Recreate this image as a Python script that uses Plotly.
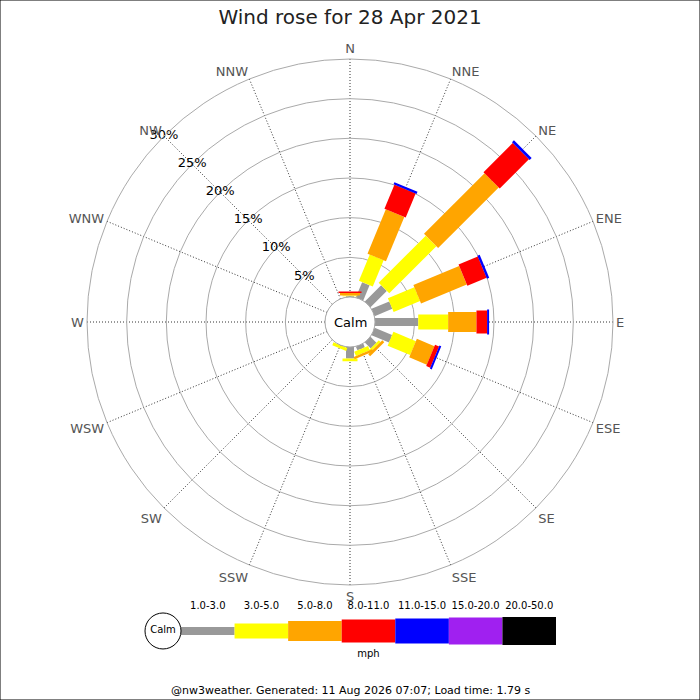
import plotly.graph_objects as go

# compass points, clockwise from north
directions = ["N", "NNE", "NE", "ENE", "E", "ESE", "SE", "SSE",
              "S", "SSW", "SW", "WSW", "W", "WNW", "NW", "NNW"]

# speed bins (mph) and the share of the day (%) in each, per direction
bins = ["1.0-3.0", "3.0-5.0", "5.0-8.0", "8.0-11.0", "11.0-15.0", "15.0-20.0", "20.0-50.0"]
pct_1_3 = [0.1, 2.07, 2.9, 2.41, 5.45, 2.38, 1.05, 0.5, 1.45, 0, 0, 0, 0, 0, 0, 0]
pct_3_5 = [0.1, 3.58, 8.4, 3.61, 3.77, 3.07, 0.3, 0.6, 0.35, 0.4, 0, 0, 0, 0, 0, 0]
pct_5_8 = [0.3, 6.05, 10.8, 6.24, 3.57, 2.4, 0.35, 0.3, 0, 0, 0, 0, 0, 0, 0, 0]
pct_8_11 = [0.2, 3.28, 5.2, 2.63, 1.34, 0.55, 0, 0, 0, 0, 0, 0, 0, 0, 0, 0]
pct_11_15 = [0, 0.3, 0.35, 0.3, 0.25, 0.25, 0, 0, 0, 0, 0, 0, 0, 0, 0, 0]
pct_15_20 = [0] * 16
pct_20_50 = [0] * 16
series = [pct_1_3, pct_3_5, pct_5_8, pct_8_11, pct_11_15, pct_15_20, pct_20_50]

ring_vals = [5, 10, 15, 20, 25, 30]
ring_labels = ["5%", "10%", "15%", "20%", "25%", "30%"]

colors = ["#999999", "#ffff00", "#ffa500", "#ff0000", "#0000ff", "#a020f0", "#000000"]
widths = [8, 15, 20, 23, 25, 27, 28]
font = "DejaVu Sans"

fig = go.Figure()

# stacked segments: each bin starts where the previous one ended
cum = [0.0] * len(directions)
for vals, col, w in zip(series, colors, widths):
    r, th = [], []
    for i, d in enumerate(directions):
        if vals[i] > 0:
            r += [cum[i], cum[i] + vals[i], None]
            th += [d, d, None]
        cum[i] += vals[i]
    if r:
        fig.add_trace(go.Scatterpolar(r=r, theta=th, mode="lines",
                                      line=dict(color=col, width=w),
                                      connectgaps=False, hoverinfo="skip",
                                      showlegend=False))

# calm circle edge
fig.add_trace(go.Scatterpolar(r=[0] * 17, theta=directions + ["N"], mode="lines",
                              line=dict(color="#999999", width=1),
                              hoverinfo="skip", showlegend=False))

# ring labels along NW
fig.add_trace(go.Scatterpolar(r=ring_vals, theta=["NW"] * len(ring_vals), mode="text",
                              text=ring_labels, textposition="middle center",
                              textfont=dict(family=font, size=13, color="#000"),
                              cliponaxis=False, hoverinfo="skip", showlegend=False))

# key below the rose
for i, (b, col, w) in enumerate(zip(bins, colors, widths)):
    fig.add_trace(go.Scatter(x=[i, i + 1], y=[0, 0], mode="lines",
                             line=dict(color=col, width=w),
                             xaxis="x", yaxis="y", hoverinfo="skip", showlegend=False))
fig.add_trace(go.Scatter(x=[i + 0.5 for i in range(len(bins))], y=[0.69] * len(bins),
                         mode="text", text=bins,
                         textfont=dict(family=font, size=10, color="#000"),
                         cliponaxis=False, hoverinfo="skip", showlegend=False))
fig.add_trace(go.Scatter(x=[-0.336], y=[0], mode="markers+text", text=["Calm"],
                         textposition="middle center",
                         marker=dict(size=36, color="white", line=dict(color="#000", width=1)),
                         textfont=dict(family=font, size=10, color="#000"),
                         cliponaxis=False, hoverinfo="skip", showlegend=False))
fig.add_trace(go.Scatter(x=[3.5], y=[-0.66], mode="text", text=["mph"],
                         textfont=dict(family=font, size=10, color="#000"),
                         cliponaxis=False, hoverinfo="skip", showlegend=False))

fig.update_layout(
    width=700, height=700,
    margin=dict(l=0, r=0, t=0, b=0),
    paper_bgcolor="white", plot_bgcolor="white",
    title=dict(text="Wind rose for 28 Apr 2021", x=0.5, xanchor="center",
               y=1 - 17 / 700, yanchor="middle",
               font=dict(family=font, size=20, color="#222")),
    polar=dict(
        domain=dict(x=[87 / 700, 613 / 700], y=[115 / 700, 641 / 700]),
        hole=25 / 263, bgcolor="white",
        angularaxis=dict(type="category", categoryarray=directions,
                         rotation=90, direction="clockwise",
                         showgrid=True, gridcolor="#333", griddash="1px,2px", gridwidth=1,
                         showline=True, linecolor="#aaaaaa", linewidth=1, ticks="",
                         tickfont=dict(family=font, size=13, color="#555")),
        radialaxis=dict(range=[0, 30], tickvals=ring_vals, showticklabels=False,
                        showline=False, ticks="", gridcolor="#aaaaaa", gridwidth=1),
    ),
    xaxis=dict(domain=[145 / 700, 556 / 700], range=[-0.672, 7], visible=False, fixedrange=True),
    yaxis=dict(domain=[0.0486, 0.1486], range=[-1, 1], visible=False, fixedrange=True),
    annotations=[
        dict(text="Calm", x=0.5, y=1 - 322 / 700, xref="paper", yref="paper",
             showarrow=False, font=dict(family=font, size=13, color="#000")),
        dict(text="@nw3weather. Generated: 11 Aug 2026 07:07; Load time: 1.79 s",
             x=0.5, y=10 / 700, xref="paper", yref="paper", yanchor="middle",
             showarrow=False, font=dict(family=font, size=11, color="#000")),
    ],
    shapes=[dict(type="rect", xref="paper", yref="paper", x0=0, y0=0, x1=1, y1=1,
                 line=dict(color="#000", width=1))],
)

# drop the browser's default page margin so the 700x700 figure fills the window
fig.write_html("out.html", config={"displayModeBar": False},
               post_script="document.body.style.margin='0';")
